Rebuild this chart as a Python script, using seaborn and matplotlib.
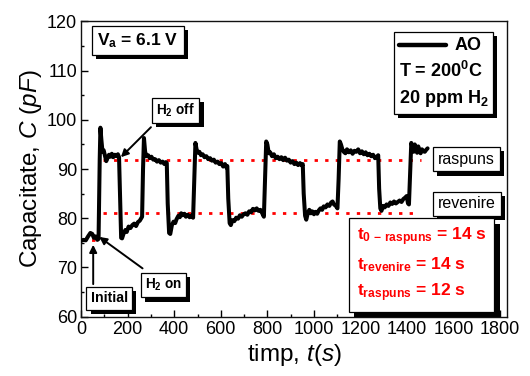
import numpy as np
import pandas as pd
import matplotlib
matplotlib.use("Agg")
import matplotlib.pyplot as plt
import matplotlib.patheffects as pe
from matplotlib.lines import Line2D
from matplotlib.offsetbox import AnchoredOffsetbox, VPacker, HPacker, TextArea, DrawingArea
from matplotlib.ticker import MultipleLocator
import seaborn as sns

# ---------------- data ----------------
time_s = [0, 10, 20, 30, 40, 48, 55, 62, 70, 75,
          80, 83, 87, 92, 97, 102, 108, 114, 120, 126, 132, 138, 145, 152, 158, 163,
          167, 172, 176, 182, 190, 196, 204, 212, 220, 228, 236, 244, 252, 258, 262,
          266, 270, 275, 281, 288, 295, 302, 310, 318, 326, 334, 342, 350, 358, 364, 368,
          372, 378, 383, 390, 397, 404, 410, 418, 424, 430, 436, 444, 450, 458, 466, 474, 481,
          486, 491, 496, 502, 508, 515, 522, 530, 538, 546, 554, 562, 570, 578, 586, 594, 602,
          610, 618, 624, 628,
          632, 638, 643, 650, 658, 666, 674, 682, 690, 698, 706, 714, 722, 730, 738, 746, 754,
          762, 770, 778, 785,
          790, 795, 800, 806, 812, 820, 828, 836, 844, 852, 860, 868, 876, 884, 892, 900, 908,
          916, 924, 932, 940, 948, 952,
          956, 962, 967, 973, 980, 987, 993, 1000, 1007, 1014, 1021, 1028, 1035, 1042, 1050,
          1058, 1066, 1074, 1080, 1086, 1094, 1101,
          1106, 1111, 1116, 1122, 1128, 1135, 1142, 1150, 1158, 1166, 1174, 1182, 1190, 1198,
          1206, 1214, 1222, 1230, 1238, 1246, 1254, 1262, 1270, 1276,
          1280, 1285, 1290, 1297, 1304, 1312, 1320, 1328, 1336, 1344, 1352, 1360, 1368, 1376,
          1384, 1392, 1398, 1404, 1408,
          1413, 1418, 1423, 1428, 1433, 1438, 1443, 1448, 1453, 1458, 1464, 1470, 1476, 1482, 1488]
capacitance_pF = [75.4, 75.6, 75.5, 76.3, 77.0, 76.8, 76.0, 76.3, 75.6, 75.8,
                  92.0, 98.4, 96.0, 93.5, 93.8, 92.8, 91.6, 92.3, 92.9, 92.5, 93.1, 92.4, 92.9, 92.6, 93.0, 92.4,
                  85.0, 76.0, 75.9, 76.8, 77.6, 77.2, 78.3, 78.0, 78.6, 78.9, 78.4, 79.2, 79.5, 80.0, 80.3,
                  90.0, 96.3, 93.5, 92.6, 92.8, 92.2, 92.5, 91.9, 92.0, 91.5, 91.8, 91.3, 91.5, 91.0, 91.4, 91.2,
                  83.0, 77.0, 76.8, 78.6, 79.3, 79.0, 79.8, 80.5, 80.2, 81.0, 80.6, 80.9, 80.3, 80.7, 80.2, 80.5, 80.1,
                  88.0, 95.3, 94.0, 93.3, 93.5, 92.8, 93.0, 92.4, 92.6, 92.0, 92.2, 91.7, 91.9, 91.3, 91.5, 91.0, 91.2,
                  90.5, 91.0, 90.3, 90.6,
                  84.0, 79.0, 78.6, 79.6, 79.4, 80.1, 79.9, 80.6, 80.3, 80.8, 81.0, 80.7, 81.4, 81.2, 81.9, 81.6, 82.0,
                  81.5, 81.7, 81.0, 80.3,
                  88.0, 95.6, 95.0, 93.2, 93.4, 92.6, 93.0, 92.2, 92.5, 92.0, 92.4, 91.8, 92.3, 91.7, 91.9, 91.3, 91.6,
                  91.0, 91.3, 90.8, 91.2, 90.7, 91.0,
                  85.0, 80.5, 79.7, 80.9, 81.7, 81.0, 81.4, 80.8, 81.3, 80.9, 81.6, 82.0, 81.7, 82.4, 82.2,
                  82.8, 82.5, 83.2, 83.4, 82.8, 82.5, 82.0,
                  88.0, 95.6, 95.0, 94.0, 93.5, 93.2, 94.0, 93.4, 93.8, 93.1, 93.7, 93.5, 94.0, 93.2,
                  93.6, 93.0, 93.4, 92.8, 93.1, 92.6, 92.9, 92.2, 92.5, 92.8,
                  86.0, 82.0, 81.5, 82.5, 82.2, 82.8, 82.5, 83.2, 82.9, 83.4, 83.0, 83.3, 83.6, 83.3,
                  83.9, 84.2, 84.5, 83.0, 82.8,
                  89.0, 95.3, 94.5, 93.5, 95.0, 94.2, 93.3, 94.6, 93.7, 93.2, 94.0, 93.6, 93.5, 93.9, 94.2]

# reference levels (red dotted lines)
level_values = [91.8, 81.0, 75.5]
level_start = [95, 95, 0]
level_end = [1460, 1445, 93]

x_ticks = [0, 200, 400, 600, 800, 1000, 1200, 1400, 1600, 1800]
y_ticks = [60, 70, 80, 90, 100, 110, 120]

df = pd.DataFrame({"t": time_s, "C": capacitance_pF})

# ---------------- style ----------------
sns.set_style("ticks")
plt.rcParams["font.family"] = ["Liberation Sans", "DejaVu Sans"]
plt.rcParams["mathtext.fontset"] = "custom"
plt.rcParams["mathtext.rm"] = "Liberation Sans"
plt.rcParams["mathtext.it"] = "Liberation Sans:italic"
plt.rcParams["mathtext.bf"] = "Liberation Sans:bold"
for key in ["text.color", "axes.labelcolor", "xtick.color", "ytick.color",
            "xtick.labelcolor", "ytick.labelcolor", "axes.edgecolor"]:
    plt.rcParams[key] = "black"

fig, ax = plt.subplots(figsize=(5.3, 3.76), dpi=100)
fig.subplots_adjust(left=0.153, right=0.957, bottom=0.158, top=0.943)

# red dotted reference levels
ax.hlines(level_values, level_start, level_end, colors="red",
          linestyles=(0, (1.2, 2.6)), linewidth=2.0, zorder=2)

sns.lineplot(data=df, x="t", y="C", estimator=None, sort=False,
             color="black", linewidth=2.9, ax=ax, zorder=3)

ax.set_xlim(0, 1830)
ax.set_ylim(60, 120)
ax.set_xticks(x_ticks)
ax.set_yticks(y_ticks)
ax.xaxis.set_minor_locator(MultipleLocator(100))
ax.yaxis.set_minor_locator(MultipleLocator(5))
ax.tick_params(which="both", direction="in", top=False, right=False,
               labelsize=13, colors="black", width=1.0)
ax.tick_params(which="major", length=5, pad=3)
ax.tick_params(which="minor", length=2.5)
for s in ax.spines.values():
    s.set_linewidth(1.0)
    s.set_color("#111111")

ax.set_xlabel("timp, $\\mathit{t(s)}$", fontsize=17.5, labelpad=3)
ax.set_ylabel("Capacitate, $\\mathit{C\\ (pF)}$", fontsize=17.5, labelpad=2)

shadow = [pe.withSimplePatchShadow(offset=(3, -3), shadow_rgbFace="black", alpha=1.0)]


def boxed(x, y, s, size, weight="bold", color="black", pad=0.3, shadow_fx=shadow, **kw):
    t = ax.text(x, y, s, fontsize=size, fontweight=weight, color=color,
                ha="center", va="center", zorder=6,
                bbox=dict(boxstyle=f"square,pad={pad}", facecolor="white",
                          edgecolor="black", linewidth=0.9), **kw)
    t.get_bbox_patch().set_path_effects(shadow_fx)
    return t


boxed(244, 116.1, "V$_\\mathbf{a}$ = 6.1 V", 12.5)
boxed(407, 101.9, "H$_\\mathbf{2}$ off", 9.8)
boxed(354, 66.4, "H$_\\mathbf{2}$ on", 9.8)
boxed(121, 63.7, "Initial", 10.2)
boxed(1655, 92.0, "raspuns", 11.5, weight="normal")
boxed(1657, 82.9, "revenire", 11.5, weight="normal")
boxed(1462, 70.5,
      "t$_\\mathbf{0\\,-\\,raspuns}$ = 14 s\nt$_\\mathbf{revenire}$ = 14 s\nt$_\\mathbf{raspuns}$ = 12 s",
      12.5, color="red", pad=0.45, multialignment="left", linespacing=1.5,
      shadow_fx=[pe.withSimplePatchShadow(offset=(4, -4), shadow_rgbFace="black", alpha=1.0)])

arrow_kw = dict(arrowstyle="-|>", color="black", lw=1.4, mutation_scale=11,
                shrinkA=0, shrinkB=0)
ax.annotate("", xy=(171, 92.4), xytext=(300, 98.5), arrowprops=arrow_kw, zorder=5)
ax.annotate("", xy=(78, 76.2), xytext=(264, 69.8), arrowprops=arrow_kw, zorder=5)
ax.annotate("", xy=(52, 74.6), xytext=(52, 66.6), arrowprops=arrow_kw, zorder=5)

# legend-like box: line sample + AO, temperature, gas
da = DrawingArea(34, 10, 0, 0)
da.add_artist(Line2D([0, 34], [5, 5], color="black", lw=3.2))
row1 = HPacker(children=[da, TextArea("AO", textprops=dict(fontsize=13, fontweight="bold"))],
               align="center", pad=0, sep=6)
row2 = TextArea("T = 200$^\\mathbf{0}$C", textprops=dict(fontsize=13, fontweight="bold"))
row3 = TextArea("20 ppm H$_\\mathbf{2}$", textprops=dict(fontsize=13, fontweight="bold"))
vbox = VPacker(children=[row1, row2, row3], align="left", pad=0, sep=5)
anch = AnchoredOffsetbox(loc="upper right", child=vbox, pad=0.35, borderpad=0,
                         frameon=True, bbox_to_anchor=(0.967, 0.964),
                         bbox_transform=ax.transAxes)
anch.patch.set_boxstyle("square", pad=0)
anch.patch.set_edgecolor("black")
anch.patch.set_linewidth(0.9)
anch.patch.set_path_effects(shadow)
anch.set_zorder(6)
ax.add_artist(anch)

fig.savefig("out.png", dpi=100)
